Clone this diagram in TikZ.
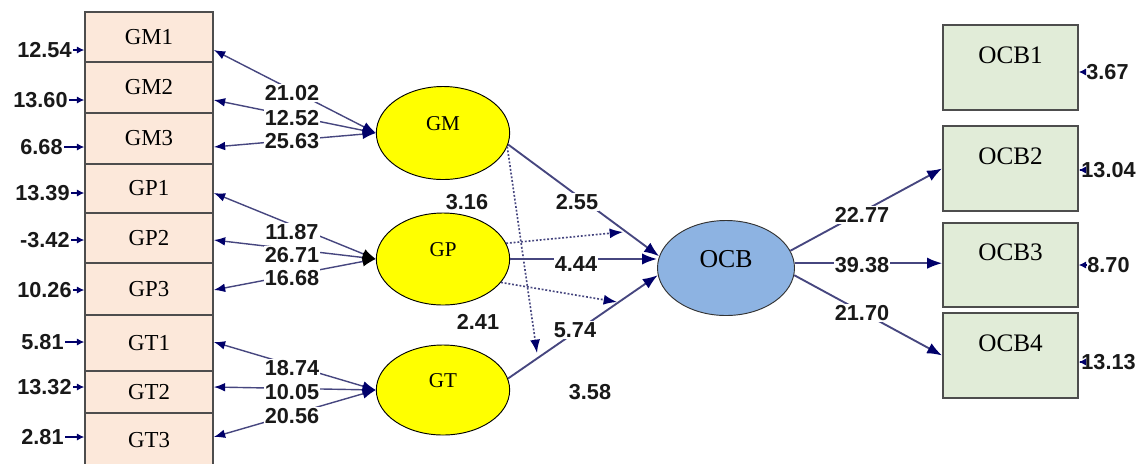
\documentclass[tikz,border=0pt]{standalone}
\usepackage{fontspec}
\setmainfont{Liberation Serif}
\newfontfamily\numfont{Liberation Sans}
\usetikzlibrary{arrows.meta,shapes.geometric}
\definecolor{peach}{HTML}{FCE8DA}
\definecolor{sage}{HTML}{E1ECD8}
\definecolor{lvy}{HTML}{FFFF00}
\definecolor{ocbb}{HTML}{8DB3E2}
\definecolor{navy}{HTML}{00006A}
\definecolor{lnk}{HTML}{46467F}
\definecolor{bord}{HTML}{4D4D4D}
\begin{document}
\begin{tikzpicture}[x=0.03cm,y=-0.03cm,
 lbox/.style={draw=bord,line width=1.4pt,fill=peach,minimum width=3.84cm,inner sep=0pt,font=\fontsize{19.5}{20}\selectfont},
 rbox/.style={draw=bord,line width=1.4pt,fill=sage,minimum width=4.05cm,minimum height=2.55cm,inner sep=0pt,text height=0.5cm,text depth=0.75cm,font=\fontsize{21.5}{22}\selectfont},
 lv/.style={ellipse,draw=black,line width=0.8pt,fill=lvy,minimum width=4.0cm,inner sep=0pt,text height=0.42cm,text depth=0.6cm,font=\fontsize{18}{18}\selectfont},
 ocbs/.style={ellipse,draw=black!80,line width=0.8pt,fill=ocbb,minimum width=4.11cm,minimum height=2.85cm,inner sep=0pt,text height=0.51cm,text depth=0.54cm,font=\fontsize{22}{22}\selectfont},
 num/.style={font=\numfont\bfseries\fontsize{18.5}{19}\selectfont,inner sep=1pt,text=black!90},
 lab/.style={num,fill=white},
 earr/.style={draw=navy,line width=1pt,-{Latex[length=0.22cm,width=0.22cm]}},
 rlk/.style={draw=lnk,line width=1.2pt,{Latex[length=0.34cm,width=0.26cm,color=navy]}-{Latex[length=0.4cm,width=0.3cm,color=navy]}},
 rlkb/.style={draw=lnk,line width=1.2pt,{Latex[length=0.34cm,width=0.26cm,color=navy]}-{Latex[length=0.4cm,width=0.3cm,color=black]}},
 slk/.style={draw=lnk,line width=1.6pt,-{Latex[length=0.45cm,width=0.34cm,color=navy]}},
 dlk/.style={draw=lnk,line width=1.4pt,dash pattern=on 1.6pt off 1.6pt,-{Latex[length=0.4cm,width=0.3cm,color=navy]}}
]
\useasboundingbox (0,0) rectangle (1145,463);

% indicator boxes (left)
\node[lbox,minimum height=1.50cm] (GM1) at (149,37) {GM1};
\node[lbox,minimum height=1.53cm] (GM2) at (149,87.5) {GM2};
\node[lbox,minimum height=1.53cm] (GM3) at (149,138.5) {GM3};
\node[lbox,minimum height=1.47cm] (GP1) at (149,188.5) {GP1};
\node[lbox,minimum height=1.50cm] (GP2) at (149,238) {GP2};
\node[lbox,minimum height=1.56cm] (GP3) at (149,289) {GP3};
\node[lbox,minimum height=1.68cm] (GT1) at (149,343) {GT1};
\node[lbox,minimum height=1.26cm] (GT2) at (149,392) {GT2};
\node[lbox,minimum height=1.65cm] (GT3) at (149,440.5) {GT3};

% indicator boxes (right)
\node[rbox] (OCB1) at (1010.5,67.5) {OCB1};
\node[rbox] (OCB2) at (1010.5,168.5) {OCB2};
\node[rbox,minimum height=2.52cm] (OCB3) at (1010.5,265) {OCB3};
\node[rbox] (OCB4) at (1010.5,355.5) {OCB4};

% latent variables
\node[lv,minimum height=2.79cm] (GM) at (443,133) {GM};
\node[lv,minimum height=2.76cm] (GP) at (443,259) {GP};
\node[lv,minimum height=2.70cm] (GT) at (443,390) {GT};
\node[ocbs] (OCB) at (726,268) {OCB};

% left error values
\node[num,anchor=east] (e1) at (73,50) {12.54};
\node[num,anchor=east] (e2) at (69,100) {13.60};
\node[num,anchor=east] (e3) at (64,147) {6.68};
\node[num,anchor=east] (e4) at (71,193) {13.39};
\node[num,anchor=east] (e5) at (71,240) {-3.42};
\node[num,anchor=east] (e6) at (73,290) {10.26};
\node[num,anchor=east] (e7) at (65,342) {5.81};
\node[num,anchor=east] (e8) at (73,387) {13.32};
\node[num,anchor=east] (e9) at (65,437) {2.81};
\draw[earr] (e1) -- (GM1.west |- e1);
\draw[earr] (e2) -- (GM2.west |- e2);
\draw[earr] (e3) -- (GM3.west |- e3);
\draw[earr] (e4) -- (GP1.west |- e4);
\draw[earr] (e5) -- (GP2.west |- e5);
\draw[earr] (e6) -- (GP3.west |- e6);
\draw[earr] (e7) -- (GT1.west |- e7);
\draw[earr] (e8) -- (GT2.west |- e8);
\draw[earr] (e9) -- (GT3.west |- e9);

% right error values
\node[num,anchor=west] (f1) at (1085,72) {3.67};
\node[num,anchor=west] (f2) at (1080,170) {13.04};
\node[num,anchor=west] (f3) at (1086,265) {8.70};
\node[num,anchor=west] (f4) at (1080,362) {13.13};
\draw[earr] (f1) -- (OCB1.east |- f1);
\draw[earr] (f2) -- (OCB2.east |- f2);
\draw[earr] (f3) -- (OCB3.east |- f3);
\draw[earr] (f4) -- (OCB4.east |- f4);

% outer loadings
\draw[rlk] (GM1.east |- e1) -- (GM.west);
\draw[rlk] (GM2.east |- e2) -- (GM.west);
\draw[rlk] (GM3.east |- e3) -- (GM.west);
\draw[rlkb] (GP1.east |- e4) -- (GP.west);
\draw[rlkb] (GP2.east |- e5) -- (GP.west);
\draw[rlkb] (GP3.east |- e6) -- (GP.west);
\draw[rlk] (GT1.east |- e7) -- (GT.west);
\draw[rlk] (GT2.east |- e8) -- (GT.west);
\draw[rlk] (GT3.east |- e9) -- (GT.west);
\node[lab] (a1) at (292,93) {21.02};
\node[lab] (a2) at (292,118) {12.52};
\node[lab] (a3) at (292,141) {25.63};
\node[lab] (a4) at (292,232) {11.87};
\node[lab] (a5) at (292,255) {26.71};
\node[lab] (a6) at (292,278) {16.68};
\node[lab] (a7) at (292,368) {18.74};
\node[lab] (a8) at (292,392) {10.05};
\node[lab] (a9) at (292,416) {20.56};

% structural paths
\draw[slk] (GM.-10) -- (OCB.170);
\draw[slk] (GP.east) -- (GP.east -| OCB.west);
\draw[slk] (GT.10) -- (OCB.186);
\coordinate (m1) at (537,353);
\coordinate (m2) at (623,232);
\coordinate (m3) at (617,302);
\draw[dlk] (GM.-12) -- (m1);
\draw[dlk] (GP.14) -- (m2);
\draw[dlk] (GP.-22) -- (m3);
\node[lab] (b1) at (577,202) {2.55};
\node[lab] (b2) at (576,264) {4.44};
\node[lab] (b3) at (575,330) {5.74};
\node[num] (c1) at (467,202) {3.16};
\node[num] (c2) at (478,322) {2.41};
\node[num] (c3) at (590,392) {3.58};

% OCB loadings
\draw[slk] (OCB.15) -- (OCB2.west);
\draw[slk] (OCB.4) -- (OCB.4 -| OCB3.west);
\draw[slk] (OCB.-6) -- (OCB4.west);
\node[lab] (d1) at (862,215) {22.77};
\node[lab] (d2) at (862,265) {39.38};
\node[lab] (d3) at (862,313) {21.70};
\end{tikzpicture}
\end{document}
